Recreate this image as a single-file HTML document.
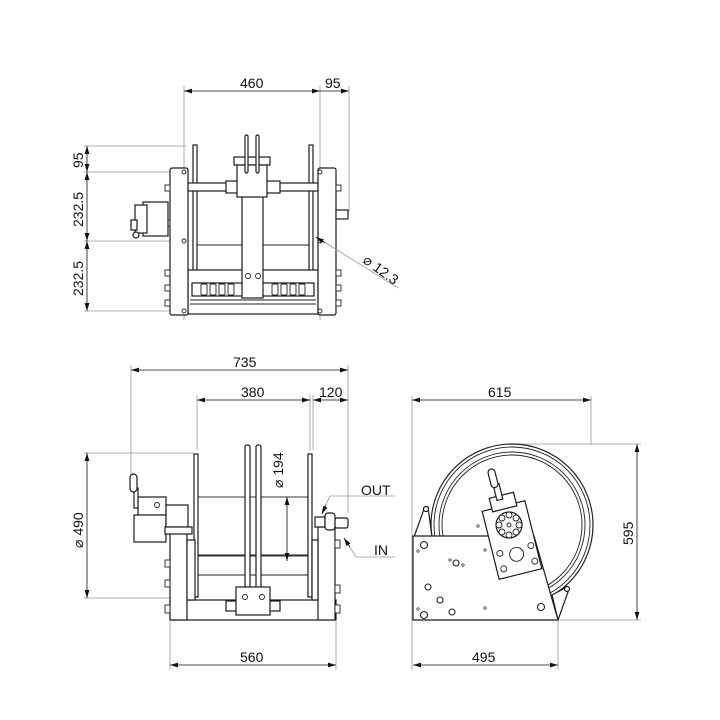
<!DOCTYPE html>
<html><head><meta charset="utf-8"><style>
html,body{margin:0;padding:0;background:#fff}
svg{display:block}
text{font-family:"Liberation Sans","DejaVu Sans",sans-serif;font-size:14px;fill:#111}
.d{stroke:#999;stroke-width:0.8;fill:none}
.a{stroke:#111;stroke-width:0.8;fill:none}
.k{stroke:#1a1a1a;stroke-width:1.2;fill:#fff}
.t{stroke:#222;stroke-width:0.9;fill:none}
</style></head><body>
<svg width="720" height="720" viewBox="0 0 720 720" xmlns="http://www.w3.org/2000/svg">
<defs>
<marker id="ar" viewBox="0 0 10 6" refX="10" refY="3" markerWidth="8" markerHeight="5" orient="auto-start-reverse" markerUnits="userSpaceOnUse"><path d="M0,0L10,3L0,6z" fill="#111"/></marker>
</defs>

<!-- ============ TOP VIEW ============ -->
<g>
<line class="d" x1="184" y1="86" x2="184" y2="320"/>
<line class="d" x1="320" y1="86" x2="320" y2="320"/>
<line class="d" x1="349" y1="86" x2="349" y2="212"/>
<line class="a" x1="184" y1="91" x2="320" y2="91" marker-start="url(#ar)" marker-end="url(#ar)"/>
<line class="a" x1="320" y1="91" x2="349" y2="91" marker-end="url(#ar)"/>
<text x="240" y="88">460</text><text x="325" y="88">95</text>

<line class="d" x1="84" y1="146" x2="186" y2="146"/>
<line class="d" x1="84" y1="172" x2="170" y2="172"/>
<line class="d" x1="84" y1="241" x2="170" y2="241"/>
<line class="d" x1="84" y1="311" x2="170" y2="311"/>
<line class="a" x1="87" y1="146" x2="87" y2="172" marker-start="url(#ar)" marker-end="url(#ar)"/>
<line class="a" x1="87" y1="172" x2="87" y2="241" marker-start="url(#ar)" marker-end="url(#ar)"/>
<line class="a" x1="87" y1="241" x2="87" y2="311" marker-start="url(#ar)" marker-end="url(#ar)"/>
<text transform="translate(83,168) rotate(-90)">95</text>
<text transform="translate(83,227) rotate(-90)">232.5</text>
<text transform="translate(83,296) rotate(-90)">232.5</text>

<rect class="k" x="193" y="145" width="4" height="128"/>
<rect class="k" x="309" y="145" width="4" height="128"/>
<rect class="k" x="188" y="183" width="130" height="8"/>
<rect class="k" x="226" y="181" width="54" height="12"/>
<line class="t" x1="197" y1="245" x2="309" y2="245"/>
<rect class="k" x="188" y="270" width="130" height="44"/>
<rect class="k" x="192" y="283" width="122" height="13"/>
<g fill="#fff" stroke="#222" stroke-width="0.9">
<rect x="201" y="284" width="6" height="11" rx="1"/><rect x="210" y="284" width="6" height="11" rx="1"/><rect x="219" y="284" width="6" height="11" rx="1"/><rect x="228" y="284" width="6" height="11" rx="1"/>
<rect x="272" y="284" width="6" height="11" rx="1"/><rect x="281" y="284" width="6" height="11" rx="1"/><rect x="290" y="284" width="6" height="11" rx="1"/><rect x="299" y="284" width="6" height="11" rx="1"/>
</g>
<line class="t" x1="190" y1="300" x2="316" y2="300"/>
<line class="t" x1="190" y1="304" x2="316" y2="304"/>
<rect class="k" x="242" y="190" width="21" height="108"/>
<circle class="t" cx="248" cy="276" r="2.5"/><circle class="t" cx="258" cy="276" r="2.5"/>
<rect class="k" x="234" y="157" width="36" height="8"/>
<rect class="k" x="237" y="165" width="30" height="32"/>
<rect class="k" x="245" y="135" width="3" height="38" rx="1.5"/>
<rect class="k" x="256" y="135" width="3" height="38" rx="1.5"/>
<rect class="k" x="170" y="168" width="18" height="147" rx="2"/>
<rect class="k" x="318" y="168" width="18" height="147" rx="2"/>
<circle class="t" cx="184" cy="172" r="2"/><circle class="t" cx="184" cy="241" r="2"/><circle class="t" cx="184" cy="311" r="2"/>
<circle class="t" cx="320" cy="172" r="2"/><circle class="t" cx="320" cy="311" r="2"/><circle class="t" cx="320" cy="241" r="2"/>
<g fill="#fff" stroke="#222" stroke-width="0.9">
<rect x="165" y="185" width="5" height="6"/><rect x="165" y="220" width="5" height="6"/><rect x="165" y="270" width="5" height="6"/><rect x="165" y="285" width="5" height="6"/><rect x="165" y="300" width="5" height="6"/>
<rect x="336" y="185" width="5" height="6"/><rect x="336" y="270" width="5" height="6"/><rect x="336" y="285" width="5" height="6"/><rect x="336" y="300" width="5" height="6"/>
</g>
<rect class="k" x="143" y="202" width="25" height="34"/>
<rect class="k" x="135" y="205" width="12" height="28"/>
<rect class="k" x="131" y="220" width="6" height="10"/>
<circle class="k" cx="136" cy="235" r="3"/>
<rect class="k" x="336" y="210" width="12" height="9"/>
<line class="d" x1="318" y1="238" x2="398" y2="288"/>
<line class="a" x1="325" y1="243" x2="316" y2="237" marker-end="url(#ar)"/>
<text transform="translate(362,262) rotate(36)">⌀ 12.3</text>
</g>

<!-- ============ FRONT VIEW ============ -->
<g>
<line class="d" x1="131" y1="365" x2="131" y2="478"/>
<line class="d" x1="348" y1="365" x2="348" y2="513"/>
<line class="a" x1="131" y1="370" x2="348" y2="370" marker-start="url(#ar)" marker-end="url(#ar)"/>
<text x="233" y="367">735</text>
<line class="d" x1="197" y1="395" x2="197" y2="450"/>
<line class="d" x1="310" y1="395" x2="310" y2="450"/>
<line class="d" x1="313" y1="395" x2="313" y2="450"/>
<line class="a" x1="197" y1="400" x2="310" y2="400" marker-start="url(#ar)" marker-end="url(#ar)"/>
<line class="a" x1="313" y1="400" x2="348" y2="400" marker-start="url(#ar)" marker-end="url(#ar)"/>
<text x="241" y="397">380</text><text x="319" y="397">120</text>

<line class="d" x1="84" y1="453" x2="194" y2="453"/>
<line class="d" x1="84" y1="598" x2="194" y2="598"/>
<line class="a" x1="87" y1="453" x2="87" y2="598" marker-start="url(#ar)" marker-end="url(#ar)"/>
<text transform="translate(83,548) rotate(-90)">⌀ 490</text>

<rect class="t" x="198" y="497" width="110" height="59"/>
<line class="t" x1="198" y1="555" x2="308" y2="555"/>
<line class="t" x1="198" y1="575" x2="308" y2="575"/>
<rect class="k" x="194" y="454" width="4" height="143"/>
<rect class="k" x="308" y="454" width="4" height="143"/>
<rect class="k" x="245" y="445" width="5" height="150" rx="2"/>
<rect class="k" x="256" y="445" width="5" height="150" rx="2"/>
<line class="a" x1="287" y1="497" x2="287" y2="561" marker-start="url(#ar)" marker-end="url(#ar)"/>
<text transform="translate(283,488) rotate(-90)">⌀ 194</text>
<rect class="k" x="170" y="600" width="166" height="20"/>
<rect class="k" x="226" y="601" width="54" height="10"/>
<rect class="k" x="236" y="587" width="34" height="28"/>
<circle class="t" cx="245" cy="597" r="2.5"/><circle class="t" cx="262" cy="597" r="2.5"/>
<rect class="k" x="170" y="527" width="17" height="93"/>
<rect class="k" x="187" y="540" width="8" height="60"/>
<rect class="k" x="318" y="527" width="17" height="93"/>
<rect class="k" x="312" y="540" width="6" height="60"/>
<g fill="#fff" stroke="#222" stroke-width="0.9">
<rect x="165" y="560" width="5" height="7"/><rect x="165" y="580" width="5" height="7"/><rect x="165" y="605" width="5" height="8"/>
<rect x="335" y="540" width="5" height="8"/><rect x="335" y="585" width="5" height="8"/><rect x="335" y="605" width="5" height="8"/>
</g>
<rect class="k" x="138" y="497" width="28" height="20"/>
<circle class="t" cx="157" cy="505" r="2.5"/>
<rect class="k" x="134" y="515" width="32" height="27"/>
<rect class="k" x="166" y="505" width="22" height="22"/>
<rect class="k" x="165" y="527" width="27" height="7"/>
<rect class="k" x="134" y="488" width="4" height="20"/>
<rect class="k" x="130" y="474" width="7" height="18" rx="3.5"/>
<rect class="k" x="315" y="517" width="10" height="10"/>
<rect class="k" x="325" y="513" width="10" height="17" rx="3"/>
<rect class="k" x="335" y="518" width="13" height="10" rx="2"/>
<polyline class="d" points="322,513 330,496 395,496"/>
<line class="a" x1="326" y1="505" x2="322" y2="514" marker-end="url(#ar)"/>
<text x="361" y="495">OUT</text>
<polyline class="d" points="344,538 356,557 395,557"/>
<line class="a" x1="350" y1="547" x2="344" y2="538" marker-end="url(#ar)"/>
<text x="374" y="555">IN</text>
<line class="d" x1="170" y1="620" x2="170" y2="670"/>
<line class="d" x1="336" y1="620" x2="336" y2="670"/>
<line class="a" x1="170" y1="665" x2="336" y2="665" marker-start="url(#ar)" marker-end="url(#ar)"/>
<text x="240" y="662">560</text>
</g>

<!-- ============ SIDE VIEW ============ -->
<g>
<line class="d" x1="412" y1="396" x2="412" y2="670"/>
<line class="d" x1="591" y1="396" x2="591" y2="445"/>
<line class="a" x1="412" y1="400" x2="591" y2="400" marker-start="url(#ar)" marker-end="url(#ar)"/>
<text x="488" y="397">615</text>
<line class="d" x1="512" y1="444" x2="641" y2="444"/>
<line class="d" x1="558" y1="620" x2="641" y2="620"/>
<line class="a" x1="637" y1="444" x2="637" y2="620" marker-start="url(#ar)" marker-end="url(#ar)"/>
<text transform="translate(633,545) rotate(-90)">595</text>
<circle cx="512" cy="525" r="81" fill="none" stroke="#222" stroke-width="1.2"/>
<circle cx="512" cy="525" r="78" fill="none" stroke="#222" stroke-width="0.9"/>
<circle cx="512" cy="525" r="73" fill="none" stroke="#222" stroke-width="0.9"/>
<circle cx="512" cy="525" r="70" fill="none" stroke="#222" stroke-width="0.9"/>
<polygon class="k" points="414,537 424,509 428,507 432,537"/>
<circle class="k" cx="426" cy="509" r="2.5"/>
<polygon class="k" points="552,595 565,588 568,592 558,620"/>
<circle class="k" cx="567" cy="589" r="2.5"/>
<polygon class="k" points="413,536 534,536 558,620 413,620"/>
<g fill="none" stroke="#222" stroke-width="1.1">
<circle cx="424" cy="545" r="3.5"/><circle cx="424" cy="615" r="3.5"/><circle cx="428" cy="587" r="3"/><circle cx="440" cy="600" r="3"/><circle cx="456" cy="563" r="3"/><circle cx="452" cy="612" r="3"/><circle cx="541" cy="607" r="3.5"/>
</g>
<g fill="none" stroke="#222" stroke-width="0.7">
<circle cx="418" cy="551" r="1.2"/><circle cx="450" cy="560" r="1.2"/><circle cx="463" cy="565" r="1.2"/><circle cx="485" cy="550" r="1.2"/><circle cx="485" cy="608" r="1.2"/><circle cx="418" cy="609" r="1.2"/><circle cx="478" cy="526" r="1.2"/>
</g>
<g transform="rotate(-14 512 540)">
<rect class="k" x="490" y="505" width="44" height="70"/>
<circle class="t" cx="513" cy="555" r="7"/>
<circle class="t" cx="497" cy="550" r="3"/><circle class="t" cx="529" cy="550" r="3"/>
<circle class="t" cx="497" cy="566" r="3"/><circle class="t" cx="529" cy="566" r="3"/>
<rect class="k" x="500" y="494" width="25" height="14"/>
<rect class="k" x="507" y="482" width="6" height="16"/>
<rect class="k" x="505" y="466" width="7" height="19" rx="3.5"/>
</g>
<circle class="k" cx="509" cy="525" r="13"/>
<g fill="#fff" stroke="#222" stroke-width="0.9">
<circle cx="509" cy="515" r="3"/><circle cx="516" cy="518" r="3"/><circle cx="519" cy="525" r="3"/><circle cx="516" cy="532" r="3"/><circle cx="509" cy="535" r="3"/><circle cx="502" cy="532" r="3"/><circle cx="499" cy="525" r="3"/><circle cx="502" cy="518" r="3"/>
<circle cx="509" cy="525" r="2"/>
</g>
<line class="d" x1="558" y1="620" x2="558" y2="670"/>
<line class="a" x1="413" y1="665" x2="558" y2="665" marker-start="url(#ar)" marker-end="url(#ar)"/>
<text x="472" y="662">495</text>
</g>
</svg>
</body></html>
